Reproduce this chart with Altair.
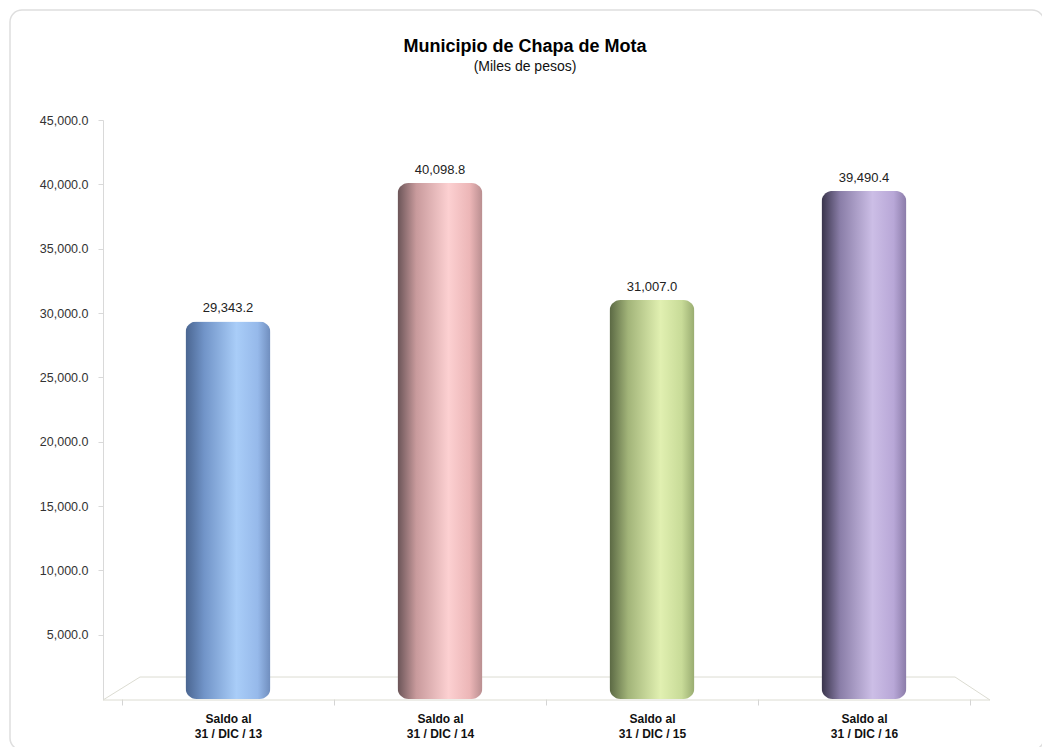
import altair as alt
import pandas as pd

title_text = "Municipio de Chapa de Mota"
subtitle_text = "(Miles de pesos)"
categories = ["Saldo al|31 / DIC / 13", "Saldo al|31 / DIC / 14",
              "Saldo al|31 / DIC / 15", "Saldo al|31 / DIC / 16"]
values = [29343.2, 40098.8, 31007.0, 39490.4]
y_ticks = [5000, 10000, 15000, 20000, 25000, 30000, 35000, 40000, 45000]

gradients = [
    ["#4a6590", "#7194c8", "#a9cdf8", "#96b9ea", "#6f8dbd"],
    ["#6a5457", "#c89a9c", "#fcd0d1", "#ecb6b7", "#b88d8f"],
    ["#5a6843", "#a2b479", "#e1f0b1", "#c8db98", "#98ab70"],
    ["#38334a", "#8a7ea8", "#ccbee6", "#b8a7d7", "#8a7ba8"],
]
stop_pos = [0.0, 0.22, 0.6, 0.85, 1.0]

df = pd.DataFrame({"cat": categories, "val": values})

FONT = "Liberation Sans"
PLOT_W, PLOT_H = 848, 579

xscale = alt.Scale(domain=categories, paddingInner=0, paddingOuter=0)
yscale = alt.Scale(domain=[0, 45000], nice=False)

base = alt.Chart(df)

layers = []
for i, cat in enumerate(categories):
    grad = alt.Gradient(
        gradient="linear", x1=0, x2=1, y1=0, y2=0,
        stops=[alt.GradientStop(color=c, offset=o) for c, o in zip(gradients[i], stop_pos)],
    )
    layers.append(
        base.transform_filter(alt.datum.cat == cat)
        .mark_bar(size=85, cornerRadius=11, color=grad)
        .encode(
            x=alt.X("cat:N", scale=xscale, sort=categories,
                    axis=alt.Axis(title=None, labelExpr="split(datum.label, '|')",
                                  labelAngle=0, labelFontWeight="bold", labelFontSize=12,
                                  labelFont=FONT, labelColor="#111111", labelPadding=8,
                                  labelLineHeight=15, domain=False, tickBand="extent",
                                  tickColor="#d4d4d4", tickSize=6)),
            y=alt.Y("val:Q", scale=yscale,
                    axis=alt.Axis(title=None, values=y_ticks, format=",.1f", grid=False,
                                  labelFont=FONT, labelFontSize=12.5, labelColor="#333333",
                                  domainColor="#d9d9d9", tickColor="#d9d9d9", tickSize=5,
                                  labelPadding=10, offset=19)),
        )
    )

labels = base.mark_text(dy=-13, fontSize=13, font=FONT, color="#222222").encode(
    x=alt.X("cat:N", scale=xscale, sort=categories),
    y=alt.Y("val:Q", scale=yscale),
    text=alt.Text("val:Q", format=",.1f"),
)

deco = alt.Chart(alt.Data(values=[{}]))
floor_color = "#dcdcd2"
floor = [
    deco.mark_rule(color=floor_color, strokeWidth=1).encode(
        x=alt.value(-19), x2=alt.value(868), y=alt.value(580), y2=alt.value(580)),
    deco.mark_rule(color=floor_color, strokeWidth=1).encode(
        x=alt.value(18), x2=alt.value(833), y=alt.value(557), y2=alt.value(557)),
    deco.mark_rule(color=floor_color, strokeWidth=1).encode(
        x=alt.value(-19), x2=alt.value(18), y=alt.value(580), y2=alt.value(557)),
    deco.mark_rule(color=floor_color, strokeWidth=1).encode(
        x=alt.value(868), x2=alt.value(833), y=alt.value(580), y2=alt.value(557)),
]
frame = deco.mark_rect(fill="transparent", stroke="#dedede", strokeWidth=1.5,
                       cornerRadius=12).encode(
    x=alt.value(-112), x2=alt.value(922), y=alt.value(-110), y2=alt.value(630))

title_mark = deco.mark_text(text=title_text, font=FONT, fontSize=18, fontWeight="bold",
                            color="#000000", baseline="alphabetic").encode(
    x=alt.value(403), y=alt.value(-68))
subtitle_mark = deco.mark_text(text=subtitle_text, font=FONT, fontSize=14,
                               color="#111111", baseline="alphabetic").encode(
    x=alt.value(403), y=alt.value(-49))

chart = alt.layer(frame, *floor, *layers, labels, title_mark, subtitle_mark).properties(
    width=PLOT_W, height=PLOT_H,
    autosize=alt.AutoSizeParams(type="none"),
    padding={"left": 114, "top": 112, "right": 72, "bottom": 48},
    view=alt.ViewBackground(stroke="transparent", strokeWidth=0),
).configure_view(stroke="transparent", strokeWidth=0).configure(background="white")

chart.save("out.html", embed_options={"renderer": "svg", "actions": False})
